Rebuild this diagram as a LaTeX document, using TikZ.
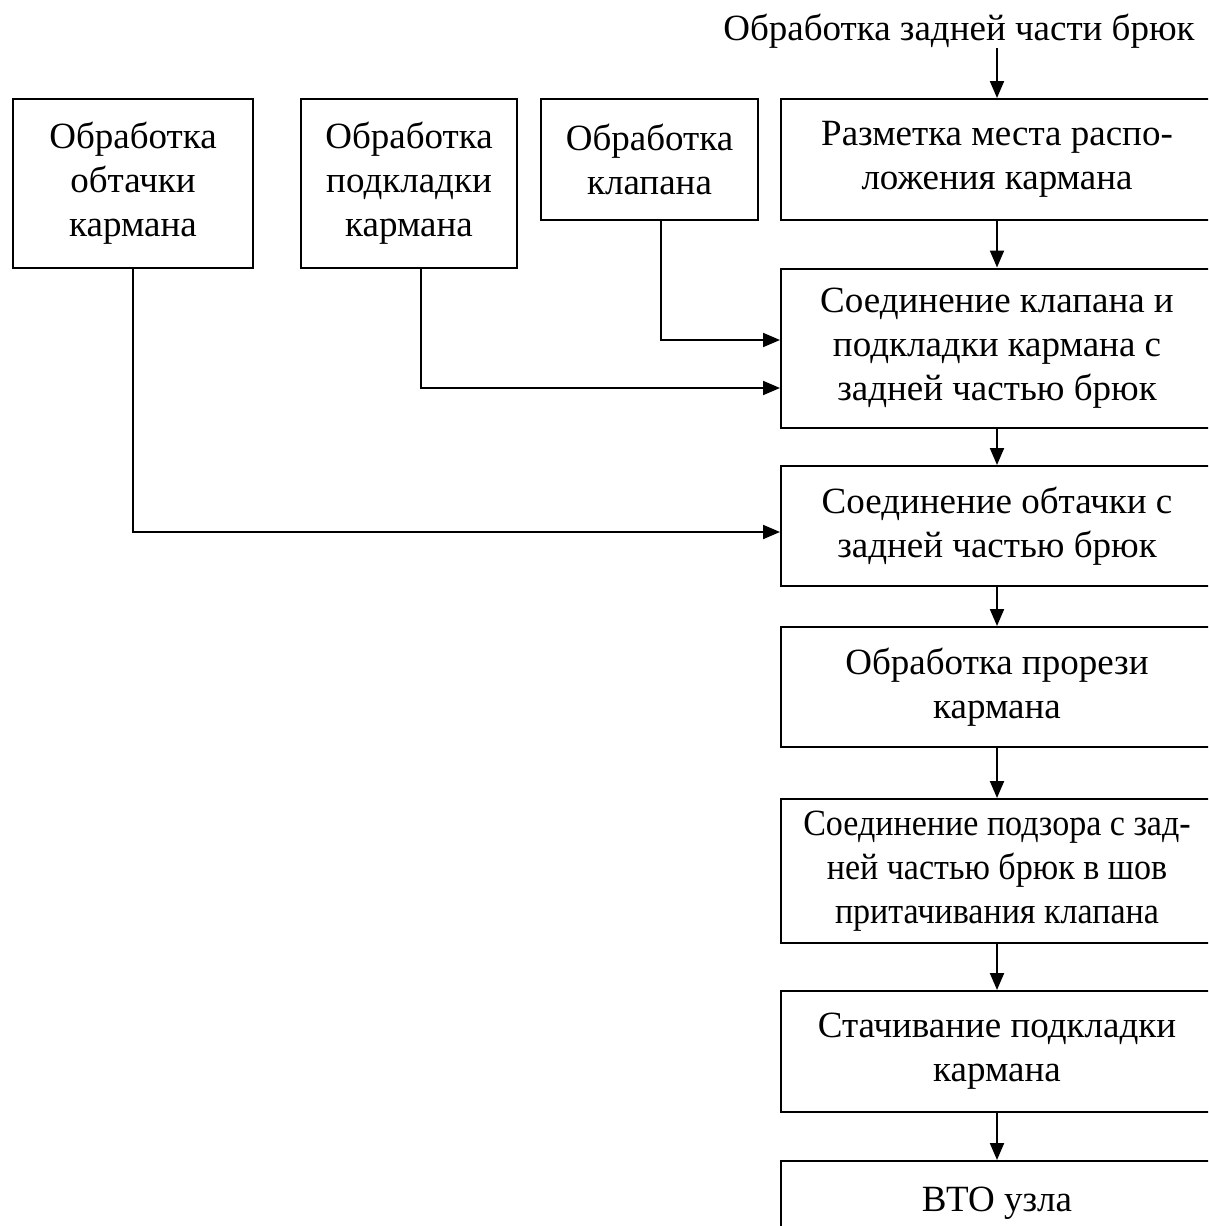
\documentclass[tikz,border=0pt]{standalone}
\usepackage{fontspec}
\setmainfont{Liberation Serif}
\newfontfamily\uzkij[FakeStretch=0.92]{Liberation Serif}
\usetikzlibrary{arrows.meta}
\tikzset{
blok/.style={draw, line width=2pt, align=center, inner sep=0pt,
  font=\fontsize{37}{44}\selectfont},
strelka/.style={line width=2pt, -{Triangle[length=17pt,width=14pt]}}
}

\begin{document}
\begin{tikzpicture}[x=1pt,y=-1pt]
  \clip (0,0) rectangle (1208,1226);
  \node[inner sep=0pt, font=\fontsize{37}{44}\selectfont] (zad) at (959,31) {Обработка задней части брюк};

  \node[blok, minimum width=240, minimum height=169] (obt) at (133,183.5) {Обработка\\обтачки\\кармана};
  \node[blok, minimum width=216, minimum height=169] (podkl) at (409,183.5) {Обработка\\подкладки\\кармана};
  \node[blok, minimum width=217, minimum height=121] (klap) at (649.5,159.5) {Обработка\\клапана};

  \node[blok, minimum width=432, minimum height=121] (razm) at (997,159.5) {Разметка места распо-\\ложения кармана};
  \node[blok, minimum width=432, minimum height=159] (soed1) at (997,348) {Соединение клапана и\\подкладки кармана с\\задней частью брюк};
  \node[blok, minimum width=432, minimum height=120] (soed2) at (997,526) {Соединение обтачки с\\задней частью брюк};
  \node[blok, minimum width=432, minimum height=120] (prorez) at (997,687) {Обработка прорези\\кармана};
  \node[blok, minimum width=432, minimum height=144, font=\uzkij\fontsize{37}{44}\selectfont] (podzor) at (997,871) {Соединение подзора с зад-\\ней частью брюк в шов\\притачивания клапана};
  \node[blok, minimum width=432, minimum height=121] (stach) at (997,1051.5) {Стачивание подкладки\\кармана};
  \node[blok, minimum width=432, minimum height=84, anchor=north] (vto) at (997,1160) {ВТО узла};

  \draw[strelka] (zad.south -| razm.north) -- (razm.north);
  \draw[strelka] (razm) -- (soed1);
  \draw[strelka] (soed1) -- (soed2);
  \draw[strelka] (soed2) -- (prorez);
  \draw[strelka] (prorez) -- (podzor);
  \draw[strelka] (podzor) -- (stach);
  \draw[strelka] (stach) -- (vto);

  \draw[strelka] ([xshift=11.5pt]klap.south) |- ([yshift=8pt]soed1.west);
  \draw[strelka] ([xshift=12pt]podkl.south) |- ([yshift=-40pt]soed1.west);
  \draw[strelka] (obt.south) |- ([yshift=-6pt]soed2.west);
\end{tikzpicture}
\end{document}
